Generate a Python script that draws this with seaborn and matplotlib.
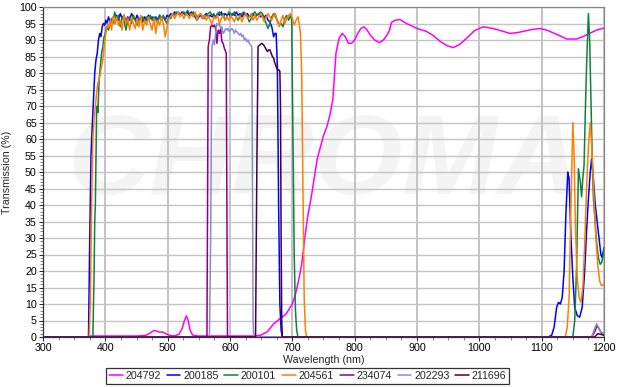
import numpy as np
import pandas as pd
import matplotlib
matplotlib.use("Agg")
import matplotlib.pyplot as plt
from matplotlib.ticker import MultipleLocator
import seaborn as sns

# ---- spectra: wavelength (nm) / transmission (%) ----
wl_204792 = [300, 370, 375, 400, 450, 465, 472, 478, 482, 487, 492, 497, 503, 510, 518, 523, 527, 530,
             533, 536, 540, 548, 600, 640, 650, 660, 670, 680, 690, 700, 705, 710, 715, 720, 725, 730,
             735, 740, 745, 750, 755, 760, 765, 770, 775, 780, 785, 790, 795, 800, 805, 810, 815, 820,
             825, 832, 840, 846, 852, 856, 859, 865, 873, 883, 890, 900, 915, 925, 937, 948, 958, 968,
             980, 992, 1006, 1022, 1035, 1049, 1060, 1070, 1085, 1097, 1108, 1118, 1130, 1140, 1156,
             1166, 1177, 1188, 1200]
tr_204792 = [0, 0, 0.3, 0.3, 0.3, 0.5, 1.2, 2.0, 1.8, 1.5, 1.5, 1.0, 0.5, 0.3, 0.8, 2.5, 5.0, 6.4,
             5.0, 2.0, 0.6, 0.3, 0.3, 0.3, 0.6, 1.6, 4.0, 5.5, 7.0, 10.0, 13.0, 17.0, 22.0, 30.0, 37.0, 42.0,
             48.0, 54.0, 57.5, 61.0, 63.5, 67.0, 72.0, 86.0, 90.5, 92.0, 91.0, 89.0, 89.0, 90.0, 92.0, 93.5, 94.0, 93.0,
             91.5, 90.0, 89.2, 90.0, 91.5, 93.0, 95.3, 96.0, 96.2, 95.0, 94.4, 93.5, 92.6, 91.5, 89.6, 88.3, 87.7, 88.6,
             90.6, 92.8, 94.0, 93.5, 92.8, 92.0, 92.2, 92.6, 93.2, 93.5, 93.0, 92.2, 91.2, 90.3, 90.3,
             91.0, 92.0, 93.0, 93.6]

wl_200185 = [300, 370, 373, 375, 377, 379, 381, 383, 385, 387, 389, 391, 393, 395, 397, 399, 401, 403,
             405, 407, 409, 412, 415, 418, 421, 424, 427, 430, 433, 436, 439, 442, 445, 448, 451, 454,
             457, 460, 463, 466, 469, 472, 475, 478, 481, 484, 487, 490, 493, 496, 499, 502, 505, 508,
             511, 514, 517, 520, 523, 526, 529, 532, 535, 538, 541, 544, 547, 550, 553, 556, 559, 562,
             565, 568, 571, 574, 577, 580, 583, 586, 589, 592, 595, 598, 601, 604, 607, 610, 613, 616,
             619, 622, 625, 628, 631, 634, 637, 640, 643, 646, 649, 652, 655, 658, 661, 664, 667, 670,
             672, 674, 676, 678, 680, 682, 684, 1110, 1116, 1120, 1124, 1127, 1130, 1133, 1136, 1139,
             1142, 1144, 1147, 1150, 1153, 1157, 1161, 1165, 1169, 1172, 1175, 1178, 1180, 1183, 1186,
             1189, 1192, 1195, 1197, 1200]
tr_200185 = [0, 0, 0, 30, 55, 64, 72, 80, 84, 86, 90, 92, 91, 94, 95, 94.5, 96, 95,
             97, 96, 95, 96.5, 95, 97.5, 96, 98, 96.5, 97.5, 95.5, 97, 96, 98, 97, 96, 97.5, 96,
             97, 95.5, 97, 96, 97.5, 96.5, 97, 95.5, 97, 96, 97.5, 96.5, 97, 96, 97.5, 97, 98, 97.5,
             98.5, 98, 98.5, 97.5, 98.5, 98, 97.5, 98.5, 97.5, 98.5, 98, 97, 96, 97, 97.5, 96.5, 97.5, 98,
             97, 97.5, 97, 97.5, 97, 98, 97.5, 98.5, 97, 98, 97.5, 98, 97, 98, 97.5, 98.5, 97.5, 98,
             97, 98, 97.5, 98, 97, 97.5, 98, 97, 97.5, 98, 97, 97.5, 97, 97.5, 96, 95.5, 94, 91,
             92, 92, 82, 40, 10, 2, 0, 0, 0.5, 3, 9, 10.5, 10, 12, 20, 38,
             50, 48, 30, 18, 9, 6.5, 6, 9, 20, 32, 42, 50, 54, 48, 40,
             35, 30, 25, 24, 27]

wl_200101 = [300, 380, 382, 383, 384, 385, 386, 387, 388, 390, 392, 394, 396, 398, 400, 402, 405, 408,
             410, 412, 415, 418, 421, 424, 427, 430, 433, 436, 439, 442, 445, 448, 451, 454, 457, 460,
             463, 466, 469, 472, 475, 478, 481, 484, 487, 490, 493, 496, 499, 502, 505, 508, 511, 514,
             517, 520, 523, 526, 529, 532, 535, 538, 541, 544, 547, 550, 553, 556, 559, 562, 565, 568,
             571, 574, 577, 580, 583, 586, 589, 592, 595, 598, 601, 604, 607, 610, 613, 616, 619, 622,
             625, 628, 631, 634, 637, 640, 643, 646, 649, 652, 655, 658, 661, 664, 667, 670, 673, 676,
             679, 682, 685, 688, 691, 694, 697, 699, 701, 703, 705, 707, 709, 1150, 1153, 1156, 1159,
             1162, 1164, 1166, 1168, 1170, 1172, 1175, 1177, 1179, 1181, 1183, 1186, 1188, 1191, 1194,
             1196, 1198, 1200]
tr_200101 = [0, 0, 20, 35, 40, 55, 68, 70, 68, 78, 82, 86, 88, 91, 92, 94, 93, 95,
             96.5, 95, 98.5, 96, 97.5, 94, 97, 96, 93, 96, 97, 95, 97.5, 96, 94.5, 96.5, 96, 97,
             95.5, 97, 96, 97.5, 96, 97, 96.5, 95, 97.5, 96, 97.5, 96, 95, 97, 96.5, 98, 97.5, 98.5,
             98, 97.5, 98, 98.5, 98, 99, 98, 97.5, 98.5, 98, 97, 97.5, 98, 97, 96.5, 97.5, 98, 98.5,
             97.5, 98, 96.5, 98, 98.5, 97.5, 98, 96, 97, 98.5, 98, 97.5, 98.5, 97, 96, 97, 98, 98.5,
             98, 97, 95.5, 96.5, 98, 98.5, 97.5, 98, 98.5, 98, 96.5, 95, 93.5, 95, 97, 98, 97, 96,
             94.5, 95, 94, 96.5, 97.5, 96, 97.5, 96, 60, 25, 8, 2, 0, 0, 5, 21, 51,
             47, 42.5, 48, 52, 68, 82, 98, 90, 72, 55, 42, 34, 29, 24, 22,
             22.5, 24, 27]

wl_204561 = [300, 374, 376, 378, 380, 382, 384, 386, 388, 390, 392, 394, 396, 398, 400, 402, 404, 406,
             408, 410, 412, 415, 418, 421, 424, 427, 430, 433, 436, 439, 442, 445, 448, 451, 454, 457,
             460, 463, 466, 469, 472, 475, 478, 481, 484, 487, 490, 493, 496, 499, 502, 505, 508, 511,
             514, 517, 520, 523, 526, 529, 532, 535, 538, 541, 544, 547, 550, 553, 556, 559, 562, 565,
             568, 571, 574, 577, 580, 583, 586, 589, 592, 595, 598, 601, 604, 607, 610, 613, 616, 619,
             622, 625, 628, 631, 634, 637, 640, 643, 646, 649, 652, 655, 658, 661, 664, 667, 670, 673,
             676, 679, 682, 685, 688, 691, 694, 697, 700, 703, 706, 709, 711, 713, 715, 717, 719, 721,
             723, 1138, 1141, 1144, 1147, 1150, 1152, 1154, 1157, 1160, 1163, 1166, 1169, 1172, 1175,
             1178, 1181, 1184, 1187, 1190, 1193, 1196, 1200]
tr_204561 = [0, 0, 10, 40, 60, 66, 70, 74, 77, 78, 80, 82, 84, 88, 91, 93.5, 95, 94,
             96, 93, 97, 95, 97, 94.5, 96, 93, 97.5, 95, 96.5, 93, 97, 95, 93.5, 96.5, 94, 97.5,
             93, 96, 94.5, 97, 95, 93, 96.5, 92, 96, 94.5, 97, 95, 91, 94, 96.5, 97, 98, 96.5,
             97.5, 98.5, 97, 98, 96.5, 98, 97.5, 96.5, 98, 97, 98.5, 96, 97.5, 98, 96.5, 97.5, 96, 97.5,
             96, 95, 97, 96.5, 97.5, 95, 96.5, 97.5, 96, 97, 96, 97.5, 96.5, 95.5, 97, 96.5, 97.5, 95.5,
             97, 98, 96.5, 97, 98, 96, 97.5, 96, 97, 98, 97, 95.5, 97, 98, 97, 96, 97.5, 98,
             95.5, 94, 96, 97.5, 95, 96.5, 97.5, 98, 96.5, 94.5, 96, 97, 95, 92, 80, 45, 12, 2,
             0, 0, 3, 12, 40, 65, 55, 35, 18, 12, 10.5, 15, 28, 45, 58,
             65, 55, 42, 30, 22, 17, 15.5, 16]

wl_234074 = [300, 563, 564, 565, 567, 569, 571, 573, 575, 577, 579, 581, 583, 585, 587, 589, 591, 593,
             594, 595, 596, 1180, 1185, 1189, 1192, 1196, 1200]
tr_234074 = [0, 0, 40, 88, 90, 94, 94.5, 94, 94.5, 93.5, 89, 93, 92, 93.5, 89.5, 89, 87.5, 86.5,
             86, 40, 0, 0, 1.5, 3.5, 2.5, 1.2, 1]

wl_202293 = [300, 567, 569, 570, 571, 573, 575, 577, 579, 581, 583, 585, 587, 589, 591, 593, 595, 597,
             599, 601, 603, 605, 607, 609, 611, 613, 615, 617, 619, 621, 623, 625, 627, 629, 631, 633,
             635, 636, 637, 638, 1180, 1184, 1188, 1191, 1195, 1200]
tr_202293 = [0, 0, 30, 60, 88, 90, 88.5, 92, 95, 94.5, 95, 93.5, 94, 92, 92.5, 93.5, 93, 93.5,
             92.5, 93, 93.5, 93, 92, 93, 92.5, 92, 91.5, 92, 91, 91.5, 90, 90.5, 89.5, 90, 89, 88.5,
             88, 50, 5, 0, 0, 2, 4, 3, 1.5, 1]

wl_211696 = [300, 641, 643, 645, 648, 651, 654, 657, 660, 662, 664, 666, 668, 670, 672, 674, 676, 678,
             680, 681, 682, 683, 684, 1185, 1190, 1195, 1200]
tr_211696 = [0, 0, 50, 88, 88.5, 89, 88.5, 87.5, 86.5, 87, 87, 86, 85, 84.5, 83, 82, 81, 81,
             80.5, 70, 30, 5, 0, 0, 1, 0.8, 0.5]

filters = ["204792", "200185", "200101", "204561", "234074", "202293", "211696"]
colors = ["#FF00FF", "#0000FF", "#108040", "#FF8000", "#8B008B", "#8C8CCC", "#45003F"]
series = [(wl_204792, tr_204792), (wl_200185, tr_200185), (wl_200101, tr_200101),
          (wl_204561, tr_204561), (wl_234074, tr_234074), (wl_202293, tr_202293),
          (wl_211696, tr_211696)]

frames = [pd.DataFrame({"Wavelength": w, "Transmission": t, "Filter": name})
          for name, (w, t) in zip(filters, series)]
df = pd.concat(frames, ignore_index=True)

sns.set_style("white")
plt.rcParams["font.family"] = ["Liberation Sans", "DejaVu Sans"]
FS = 7.7

fig = plt.figure(figsize=(6.19, 3.87), dpi=100)
ax = fig.add_axes([43 / 619, 50 / 387, 561 / 619, 330 / 387])

# faint brand watermark behind the grid
ax.text(0.5, 0.52, "CHROMA", transform=ax.transAxes, ha="center", va="center",
        fontsize=82, fontweight="bold", fontstyle="italic", color="#F4F4F4", zorder=0.1)

sns.lineplot(data=df, x="Wavelength", y="Transmission", hue="Filter", hue_order=filters,
             palette=dict(zip(filters, colors)), estimator=None, sort=False,
             linewidth=1.1, ax=ax, legend=False, zorder=3)

ax.set_xlim(300, 1200)
ax.set_ylim(0, 100)
ax.xaxis.set_major_locator(MultipleLocator(100))
ax.xaxis.set_minor_locator(MultipleLocator(25))
ax.yaxis.set_major_locator(MultipleLocator(5))
ax.yaxis.set_minor_locator(MultipleLocator(1))
ax.grid(True, which="major", axis="y", color="#C4C4C4", linewidth=1.0)
ax.grid(True, which="major", axis="x", color="#BEBEBE", linewidth=1.3)
ax.set_axisbelow(True)

ax.tick_params(axis="both", which="major", direction="out", length=3, width=0.7,
               labelsize=FS, pad=1.5, colors="#222222", labelcolor="black")
ax.tick_params(axis="both", which="minor", direction="out", length=2, width=0.5, colors="#555555")
ax.tick_params(axis="x", which="both", bottom=True)
ax.tick_params(axis="y", which="both", left=True)

for side in ["left", "bottom"]:
    ax.spines[side].set_color("#333333")
    ax.spines[side].set_linewidth(0.9)
for side in ["top", "right"]:
    ax.spines[side].set_color("#888888")
    ax.spines[side].set_linewidth(0.9)

ax.set_xlabel("Wavelength (nm)", fontsize=FS, labelpad=1)
ax.set_ylabel("Transmission (%)", fontsize=FS, labelpad=5)

handles = [plt.Line2D([], [], color=c, linewidth=1.1) for c in colors]
leg = fig.legend(handles, filters, loc="center", bbox_to_anchor=(0.497, 0.028), ncol=7,
                 fontsize=FS, frameon=True, fancybox=False, handlelength=1.3,
                 handletextpad=0.25, columnspacing=0.55, borderpad=0.25, borderaxespad=0)
leg.get_frame().set_edgecolor("black")
leg.get_frame().set_linewidth(0.9)

fig.savefig("out.png", dpi=100)
